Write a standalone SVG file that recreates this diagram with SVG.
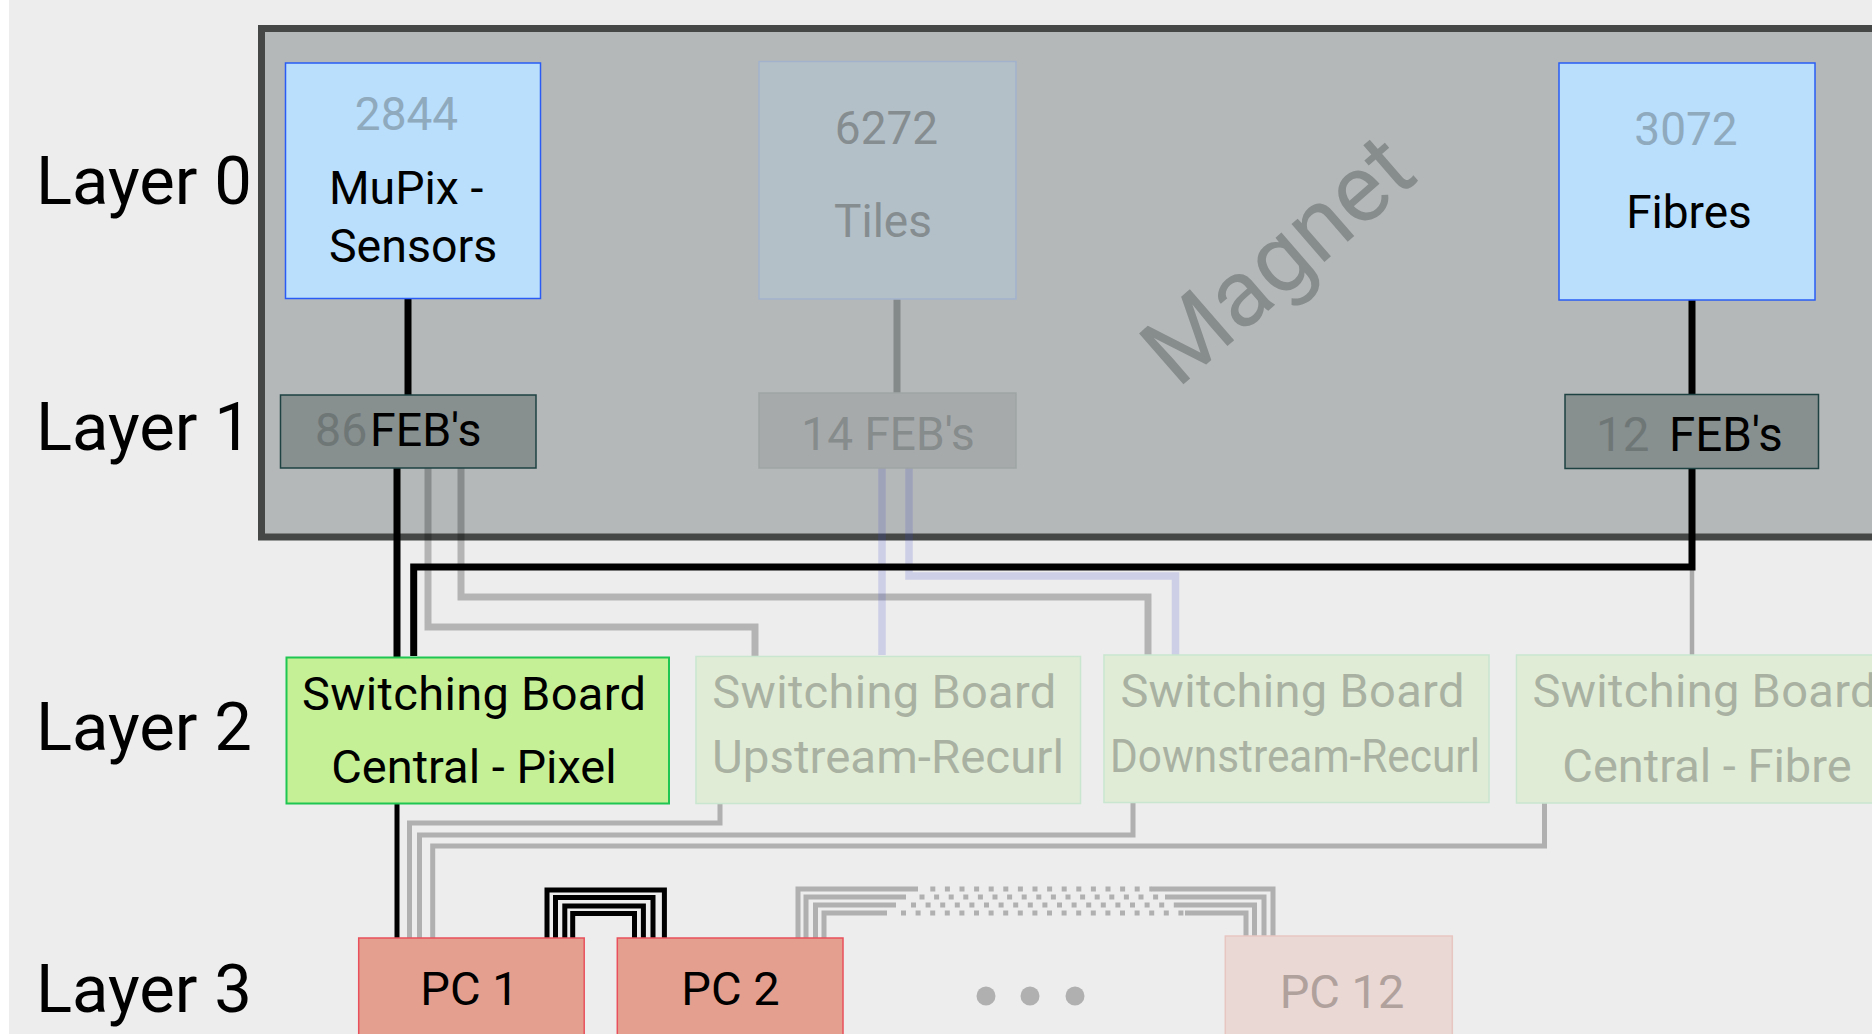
<svg xmlns="http://www.w3.org/2000/svg" width="1872" height="1034" viewBox="0 0 1872 1034">
  <style>
    text { font-family: Roboto, "Liberation Sans", sans-serif; }
    .layer { font-size: 67px; fill: #000; }
    .lbl { font-size: 46px; text-anchor: middle; }
    .sb { font-size: 47px; text-anchor: middle; }
    .pc { font-size: 47px; text-anchor: middle; }
    .sensor { fill: #b9dffd; stroke: #2a5cf5; stroke-width: 1.5; }
    .feb { fill: #878f8f; stroke: #1e4242; stroke-width: 1.5; }
    .sb-off { fill: #e1ecd6; stroke: #c9e6d0; stroke-width: 1.5; }
    .sb-off-t { fill: #a9b2a2; }
    .pc-on { fill: #e59f8e; stroke: #e8505c; stroke-width: 1.5; }
    .blk { fill: none; stroke: #000; }
    .gry { fill: none; stroke: #000; stroke-opacity: 0.24; stroke-width: 7; }
    .pur { fill: none; stroke: rgb(60,70,200); stroke-opacity: 0.18; stroke-width: 7.5; }
    .lgry { fill: none; stroke: #b0b0b0; stroke-width: 5; }
    .dots { fill: none; stroke: #b0b0b0; stroke-width: 5; stroke-dasharray: 5 9.6; }
  </style>

  <!-- background -->
  <rect x="0" y="0" width="1872" height="1034" fill="#ededed"/>
  <rect x="0" y="0" width="9" height="1034" fill="#ffffff"/>

  <!-- layer labels -->
  <g id="layer-labels">
    <text class="layer" x="36" y="204">Layer 0</text>
    <text class="layer" x="36" y="450">Layer 1</text>
    <text class="layer" x="36" y="750">Layer 2</text>
    <text class="layer" x="36" y="1012">Layer 3</text>
  </g>

  <!-- magnet enclosure -->
  <g id="magnet">
    <rect x="261.5" y="28.5" width="1660" height="508.5" fill="#b5b8b8" stroke="#454747" stroke-width="7"/>
    <text x="1299" y="284" transform="rotate(-41 1299 284)" text-anchor="middle" font-size="95" fill="#878c8c">Magnet</text>
  </g>

  <!-- connectors -->
  <g id="connectors" stroke-linejoin="miter" stroke-linecap="butt">
    <!-- layer 0 to layer 1 -->
    <line class="blk" x1="408" y1="299" x2="408" y2="395" stroke-width="7"/>
    <line x1="897" y1="299" x2="897" y2="393" stroke="#848989" stroke-width="7"/>
    <line class="blk" x1="1692" y1="300" x2="1692" y2="395" stroke-width="7"/>

    <!-- layer 1 to layer 2 -->
    <path class="gry" d="M428 468 V627 H755 V656"/>
    <path class="gry" d="M461 468 V597 H1148 V655"/>
    <path class="pur" d="M882 468 V655"/>
    <path class="pur" d="M909 468 V576 H1175.5 V656"/>
    <path d="M1692 570 V655" fill="none" stroke="#aaaaaa" stroke-width="4.5"/>
    <path class="blk" d="M397 468 V657" stroke-width="7"/>
    <path class="blk" d="M1692 468 V567 H413.7 V656" stroke-width="7"/>

    <!-- layer 2 to layer 3 -->
    <path class="blk" d="M397 804 V938" stroke-width="5"/>
    <path class="lgry" d="M720 803 V823 H409.5 V938"/>
    <path class="lgry" d="M1133 802 V835 H419.5 V938"/>
    <path class="lgry" d="M1544.5 803 V846 H432.7 V938"/>

    <!-- PC 1 to PC 2 -->
    <path class="blk" stroke-width="5" d="M547 938 V890 H664.4 V938"/>
    <path class="blk" stroke-width="5" d="M555.5 938 V897.5 H653 V938"/>
    <path class="blk" stroke-width="5" d="M564.8 938 V906 H643.4 V938"/>
    <path class="blk" stroke-width="5" d="M572.7 938 V913.5 H634.5 V939.5"/>

    <!-- PC 2 to PC 12 -->
    <path class="lgry" d="M798 938 V889 H918"/>
    <line class="dots" x1="930.3" y1="889" x2="1152" y2="889"/>
    <path class="lgry" d="M1151.7 889 H1273 V936"/>

    <path class="lgry" d="M806 938 V897 H906"/>
    <line class="dots" x1="919.5" y1="897" x2="1165" y2="897"/>
    <path class="lgry" d="M1165 897 H1264 V936"/>

    <path class="lgry" d="M815.5 938 V905 H896"/>
    <line class="dots" x1="911" y1="905" x2="1174" y2="905"/>
    <path class="lgry" d="M1174 905 H1254.5 V936"/>

    <path class="lgry" d="M824 938 V913 H887"/>
    <line class="dots" x1="901" y1="913" x2="1185" y2="913"/>
    <path class="lgry" d="M1185 913 H1246 V936"/>
  </g>

  <!-- layer 0: detectors -->
  <g id="mupix">
    <rect class="sensor" x="285.5" y="63" width="255" height="235.5"/>
    <text class="lbl" x="406.5" y="130" fill="#8fa9bd">2844</text>
    <text x="329" y="204" font-size="46.5" fill="#000">MuPix -</text>
    <text x="329" y="262" font-size="46.5" fill="#000">Sensors</text>
  </g>
  <g id="tiles">
    <rect x="759" y="61.5" width="257" height="237.5" fill="#b4c0c8" stroke="#a2b2cc" stroke-width="1.5"/>
    <text class="lbl" x="886.5" y="144" fill="#868d90">6272</text>
    <text class="lbl" x="883" y="237" fill="#868d90">Tiles</text>
  </g>
  <g id="fibres">
    <rect class="sensor" x="1559" y="63" width="256" height="237"/>
    <text class="lbl" x="1686" y="145" fill="#8fa9bd">3072</text>
    <text class="lbl" x="1689" y="228" fill="#000">Fibres</text>
  </g>

  <!-- layer 1: front-end boards -->
  <g id="feb-pixel">
    <rect class="feb" x="280.5" y="395" width="255.5" height="73"/>
    <text x="315" y="446" font-size="46.5"><tspan fill="#6f7676">86</tspan><tspan x="370" fill="#000">FEB's</tspan></text>
  </g>
  <g id="feb-tiles">
    <rect x="759" y="393" width="257" height="75" fill="#a6aaab" stroke="#9ea4a4" stroke-width="1.5"/>
    <text class="lbl" x="888" y="450" fill="#868b8c">14 FEB's</text>
  </g>
  <g id="feb-fibres">
    <rect class="feb" x="1565" y="394.5" width="253.5" height="74"/>
    <text x="1596" y="450.5" font-size="47.5"><tspan fill="#6f7676">12</tspan><tspan x="1669" fill="#000">FEB's</tspan></text>
  </g>

  <!-- layer 2: switching boards -->
  <g id="sb-central-pixel">
    <rect x="286.5" y="657.5" width="382.5" height="146" fill="#c6f096" stroke="#1fc652" stroke-width="2"/>
    <text class="sb" x="474" y="710" textLength="344">Switching Board</text>
    <text class="sb" x="474" y="783">Central - Pixel</text>
  </g>
  <g id="sb-upstream-recurl">
    <rect class="sb-off" x="696" y="656.5" width="384.5" height="147"/>
    <text class="sb sb-off-t" x="884.3" y="708" textLength="344">Switching Board</text>
    <text class="sb sb-off-t" x="888" y="773" font-size="45" textLength="352" lengthAdjust="spacingAndGlyphs">Upstream-Recurl</text>
  </g>
  <g id="sb-downstream-recurl">
    <rect class="sb-off" x="1104" y="655" width="385" height="147.5"/>
    <text class="sb sb-off-t" x="1292.4" y="707" textLength="344">Switching Board</text>
    <text class="sb sb-off-t" x="1295" y="772" font-size="45" textLength="370" lengthAdjust="spacingAndGlyphs">Downstream-Recurl</text>
  </g>
  <g id="sb-central-fibre">
    <rect class="sb-off" x="1516.5" y="655" width="400" height="148"/>
    <text class="sb sb-off-t" x="1704.5" y="707" textLength="344">Switching Board</text>
    <text class="sb sb-off-t" x="1707" y="782">Central - Fibre</text>
  </g>

  <!-- layer 3: filter farm PCs -->
  <g id="pc1">
    <rect class="pc-on" x="358.7" y="938" width="225.5" height="120"/>
    <text class="pc" x="469.4" y="1005">PC 1</text>
  </g>
  <g id="pc2">
    <rect class="pc-on" x="617.3" y="938" width="225.7" height="120"/>
    <text class="pc" x="730.4" y="1005">PC 2</text>
  </g>
  <g id="pc-ellipsis" fill="#b0b0b0">
    <circle cx="986" cy="996" r="9.5"/>
    <circle cx="1030" cy="996" r="9.5"/>
    <circle cx="1075" cy="996" r="9.5"/>
  </g>
  <g id="pc12">
    <rect x="1225.3" y="936" width="227" height="120" fill="#ead8d5" stroke="#e7c6c2" stroke-width="1.5"/>
    <text class="pc" x="1342" y="1007.5" fill="#b0a19d">PC 12</text>
  </g>
</svg>
